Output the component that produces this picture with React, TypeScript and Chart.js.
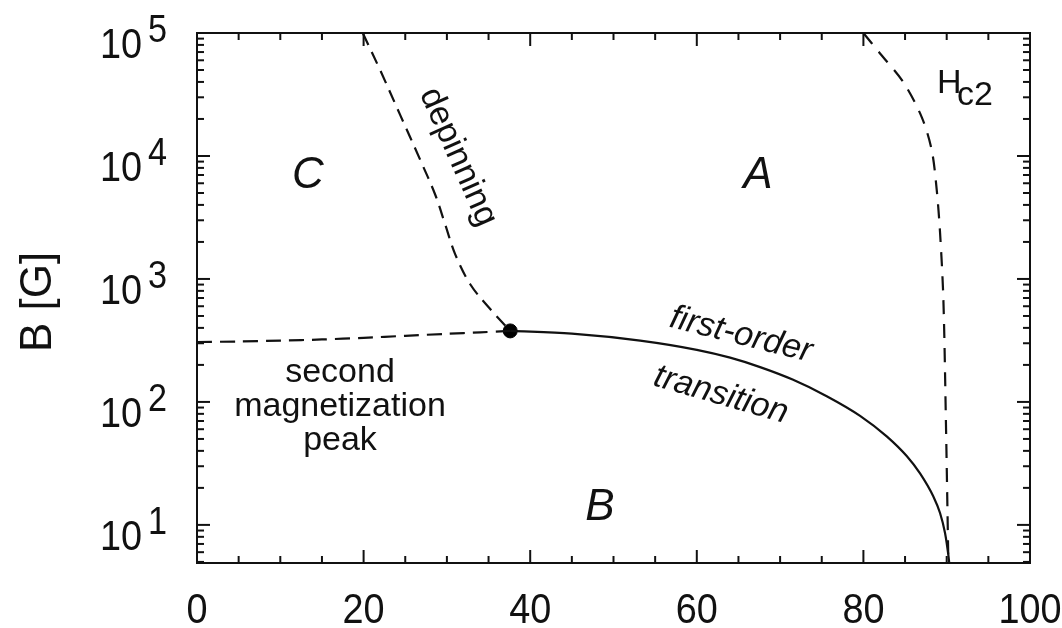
import React, { useEffect, useRef } from "react";
import { Chart, registerables } from "chart.js";

Chart.register(...registerables);

// Solid first-order transition line (x, B[G])
const firstOrderX = [37.6, 45, 53.2, 60, 64, 67.6, 71.5, 75.6, 79.6, 82.8, 85.2, 86.8, 88.4, 89.2, 89.8, 90.2, 90.32];
const firstOrderY = [378, 359, 315, 265, 229, 192, 152, 111.4, 77.1, 52.5, 36.3, 26.2, 17.0, 12.5, 8.6, 5.67, 4.8];

// Dashed second magnetization peak line
const secondPeakX = [0, 5, 10, 15, 20, 25, 30, 34, 37.6];
const secondPeakY = [307, 310, 315, 322, 332, 345, 358, 368, 378];

// Dashed depinning line
const depinX = [19.9, 22.0, 24.4, 26.8, 28.6, 29.8, 31.0, 32.8, 35.2, 37.6];
const depinY = [100000, 49700, 21500, 9290, 4840, 2770, 1585, 906, 569, 378];

// Dashed Hc2 line
const hc2X = [80.0, 82.0, 84.8, 87.0, 88.2, 88.8, 89.2, 89.6, 89.9, 90.2];
const hc2Y = [100000, 68200, 39800, 20700, 11200, 5320, 2390, 685, 73, 4.9];

// Critical point
const dotX = [37.6];
const dotY = [378];

// Axes
const xTickValues = [0, 20, 40, 60, 80, 100];
const xTickLabels = ["0", "20", "40", "60", "80", "100"];
const yTickExponents = [1, 2, 3, 4, 5];
const yAxisTitle = "B [G]";

const FONT = '"Liberation Sans", Arial, Helvetica, sans-serif';

export default function App() {
  const ref = useRef<HTMLCanvasElement>(null);

  useEffect(() => {
    if (!ref.current) return;
    const toPts = (xs: number[], ys: number[]) => xs.map((x, i) => ({ x, y: ys[i] }));

    const decor = {
      id: "decor",
      afterDraw(chart: any) {
        const { ctx, chartArea: a, scales } = chart;
        const xs = scales.x;
        const ys = scales.y;
        ctx.save();
        ctx.strokeStyle = "#111";
        ctx.fillStyle = "#111";
        ctx.lineWidth = 2;
        ctx.setLineDash([]);
        ctx.strokeRect(a.left, a.top, a.right - a.left, a.bottom - a.top);

        const seg = (x1: number, y1: number, x2: number, y2: number) => {
          ctx.beginPath();
          ctx.moveTo(x1, y1);
          ctx.lineTo(x2, y2);
          ctx.stroke();
        };
        // x ticks (inward, top and bottom)
        for (let v = 0; v <= 100; v += 5) {
          const px = xs.getPixelForValue(v);
          const len = v % 20 === 0 ? 13 : 7;
          seg(px, a.bottom, px, a.bottom - len);
          seg(px, a.top, px, a.top + len);
        }
        // y ticks (log, inward, left and right)
        for (let e = 0; e <= 5; e++) {
          for (let m = 1; m <= 9; m++) {
            const v = m * Math.pow(10, e);
            if (v < ys.min || v > ys.max) continue;
            const py = ys.getPixelForValue(v);
            const len = m === 1 ? 13 : 7;
            seg(a.left, py, a.left + len, py);
            seg(a.right, py, a.right - len, py);
          }
        }

        const txt = (s: string, x: number, y: number, font: string, align: CanvasTextAlign, sx = 1) => {
          ctx.save();
          ctx.font = font;
          ctx.textAlign = align;
          ctx.textBaseline = "alphabetic";
          ctx.translate(x, y);
          ctx.scale(sx, 1);
          ctx.fillText(s, 0, 0);
          ctx.restore();
        };

        // x tick labels
        xTickValues.forEach((v, i) => {
          txt(xTickLabels[i], xs.getPixelForValue(v), 623, `42px ${FONT}`, "center", 0.9);
        });
        // y tick labels 10^n
        yTickExponents.forEach((e) => {
          const py = ys.getPixelForValue(Math.pow(10, e));
          txt("10", 100, py + 25, `42px ${FONT}`, "left", 0.9);
          txt(String(e), 148, py + 9, `38px ${FONT}`, "left", 0.9);
        });

        // y axis title
        ctx.save();
        ctx.font = `44px ${FONT}`;
        ctx.textAlign = "center";
        ctx.textBaseline = "alphabetic";
        ctx.translate(51, 302);
        ctx.rotate(-Math.PI / 2);
        ctx.fillText(yAxisTitle, 0, 0);
        ctx.restore();

        // region labels
        txt("C", 308, 188, `italic 44px ${FONT}`, "center");
        txt("A", 758, 188, `italic 44px ${FONT}`, "center");
        txt("B", 600, 520, `italic 44px ${FONT}`, "center");

        txt("second", 340, 382, `34px ${FONT}`, "center");
        txt("magnetization", 340, 416, `34px ${FONT}`, "center");
        txt("peak", 340, 450, `34px ${FONT}`, "center");

        txt("H", 937, 93, `34px ${FONT}`, "left");
        txt("c2", 957, 105, `34px ${FONT}`, "left");

        const rot = (s: string, x: number, y: number, deg: number, font: string) => {
          ctx.save();
          ctx.font = font;
          ctx.textAlign = "center";
          ctx.textBaseline = "middle";
          ctx.translate(x, y);
          ctx.rotate((deg * Math.PI) / 180);
          ctx.fillText(s, 0, 0);
          ctx.restore();
        };
        rot("depinning", 458, 157, 66, `34px ${FONT}`);
        rot("first-order", 741, 335, 14, `italic 34px ${FONT}`);
        rot("transition", 721, 395, 16, `italic 34px ${FONT}`);

        ctx.restore();
      },
    };

    const lineDs = (label: string, xs: number[], ys: number[], dash: number[], tension: number) => ({
      label,
      data: toPts(xs, ys),
      showLine: true,
      borderColor: "#111",
      backgroundColor: "#111",
      borderWidth: 2.2,
      borderDash: dash,
      pointRadius: 0,
      tension,
    });

    const chart = new Chart(ref.current, {
      type: "scatter",
      data: {
        datasets: [
          { ...lineDs("first-order transition", firstOrderX, firstOrderY, [], 0), cubicInterpolationMode: "monotone" as const },
          lineDs("second magnetization peak", secondPeakX, secondPeakY, [15, 8], 0.3),
          lineDs("depinning", depinX, depinY, [13, 8], 0.35),
          lineDs("Hc2", hc2X, hc2Y, [14, 10], 0.3),
          {
            label: "point",
            data: toPts(dotX, dotY),
            showLine: false,
            pointRadius: 7,
            pointBackgroundColor: "#000",
            pointBorderColor: "#000",
          },
        ],
      },
      options: {
        responsive: false,
        animation: false,
        devicePixelRatio: 1,
        layout: { padding: { left: 197, right: 32, top: 33, bottom: 65 } },
        plugins: { legend: { display: false }, tooltip: { enabled: false } },
        scales: {
          x: { type: "linear", min: 0, max: 100, display: false },
          y: { type: "logarithmic", min: 4.9, max: 100000, display: false },
        },
      },
      plugins: [decor],
    });
    return () => chart.destroy();
  }, []);

  return (
    <div style={{ position: "fixed", left: 0, top: 0, width: 1062, height: 628, background: "#fff" }}>
      <canvas ref={ref} width={1062} height={628} style={{ display: "block" }} />
    </div>
  );
}
